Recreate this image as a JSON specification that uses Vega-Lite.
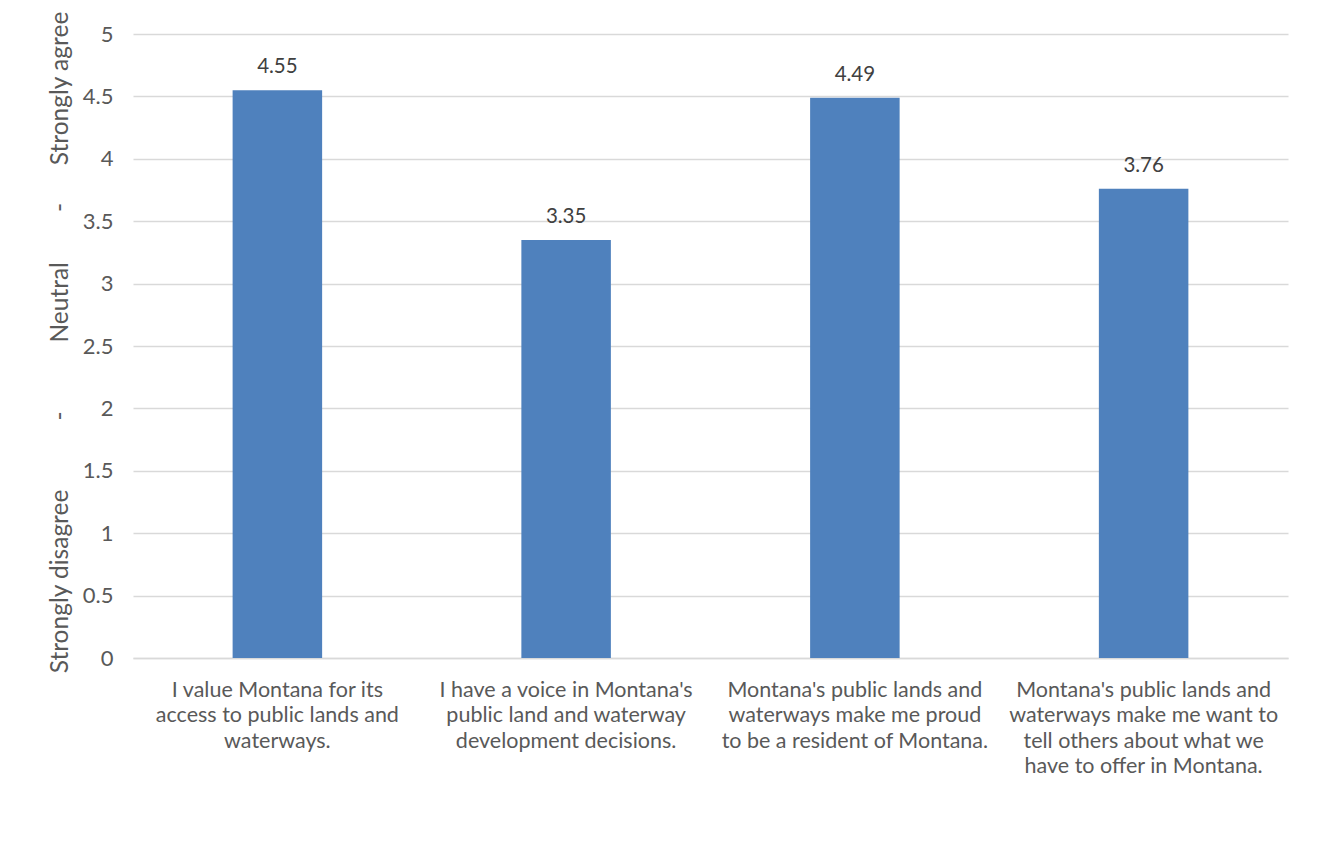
{
  "$schema": "https://vega.github.io/schema/vega-lite/v6.json",
  "autosize": {"type": "none"},
  "padding": {"left": 133, "top": 34, "right": 32, "bottom": 195},
  "width": 1155,
  "height": 624,
  "background": "white",
  "config": {"view": {"stroke": null}, "font": "Lato"},
  "data": {
    "values": [
      {"statement": "I value Montana for its|access to public lands and|waterways.", "mean": 4.55},
      {"statement": "I have a voice in Montana's|public land and waterway|development decisions.", "mean": 3.35},
      {"statement": "Montana's public lands and|waterways make me proud|to be a resident of Montana.", "mean": 4.49},
      {"statement": "Montana's public lands and|waterways make me want to|tell others about what we|have to offer in Montana.", "mean": 3.76}
    ]
  },
  "encoding": {
    "x": {
      "field": "statement",
      "type": "nominal",
      "sort": null,
      "scale": {"paddingInner": 0.69, "paddingOuter": 0.345},
      "axis": {
        "title": null,
        "labelAngle": 0,
        "labelExpr": "split(datum.label, '|')",
        "labelFont": "Lato",
        "labelFontSize": 21.5,
        "labelColor": "#595959",
        "labelLineHeight": 25.5,
        "labelPadding": 21,
        "labelLimit": 400,
        "ticks": false,
        "domainColor": "#d9d9d9",
        "domainWidth": 1.5
      }
    },
    "y": {
      "field": "mean",
      "type": "quantitative",
      "scale": {"domain": [0, 5]},
      "axis": {
        "values": [0, 0.5, 1, 1.5, 2, 2.5, 3, 3.5, 4, 4.5, 5],
        "format": "~g",
        "domain": false,
        "ticks": false,
        "gridColor": "#d9d9d9",
        "gridWidth": 1.5,
        "labelFont": "Lato",
        "labelFontSize": 22,
        "labelColor": "#595959",
        "labelPadding": 20,
        "title": "Strongly disagree\u00a0\u00a0\u00a0\u00a0\u00a0\u00a0\u00a0\u00a0\u00a0\u00a0\u00a0-\u00a0\u00a0\u00a0\u00a0\u00a0\u00a0\u00a0\u00a0\u00a0\u00a0\u00a0Neutral\u00a0\u00a0\u00a0\u00a0\u00a0\u00a0\u00a0\u00a0-\u00a0\u00a0\u00a0\u00a0\u00a0\u00a0Strongly agree",
        "titleFont": "Lato",
        "titleFontSize": 24.5,
        "titleFontWeight": "normal",
        "titleColor": "#595959",
        "titleY": 308,
        "titlePadding": 10
      }
    }
  },
  "layer": [
    {"mark": {"type": "bar", "color": "#4f81bd"}},
    {
      "mark": {"type": "text", "baseline": "bottom", "dy": -13, "font": "Lato", "fontSize": 20.5, "color": "#404040"},
      "encoding": {"text": {"field": "mean", "type": "quantitative", "format": ".2f"}}
    }
  ]
}
